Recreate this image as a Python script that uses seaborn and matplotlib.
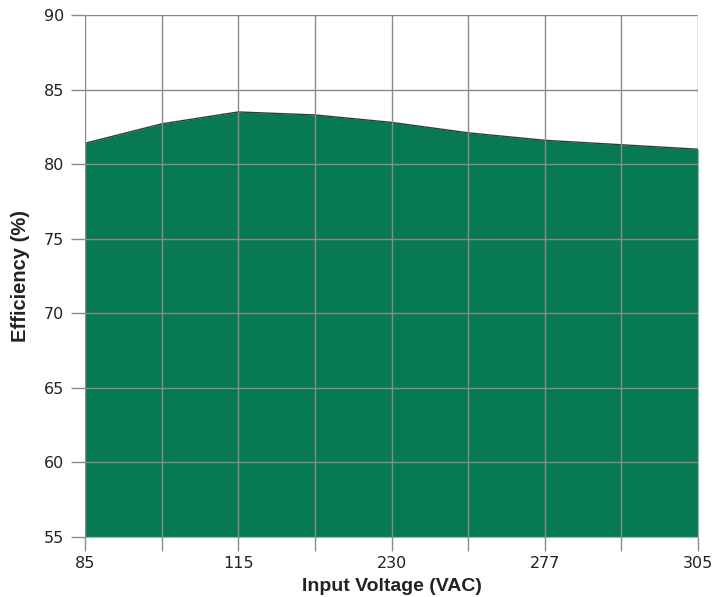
import matplotlib
matplotlib.use("Agg")
import matplotlib.pyplot as plt
import seaborn as sns
import pandas as pd

# Data (positions equally spaced on the x axis)
positions = [0, 1, 2, 3, 4, 5, 6, 7, 8]
efficiency = [81.4, 82.7, 83.5, 83.3, 82.8, 82.1, 81.6, 81.3, 81.0]
tick_positions = [0, 2, 4, 6, 8]
tick_labels = ["85", "115", "230", "277", "305"]
y_ticks = [55, 60, 65, 70, 75, 80, 85, 90]

df = pd.DataFrame({"pos": positions, "eff": efficiency})

sns.set_theme(style="white")
plt.rcParams['font.family'] = ['Liberation Sans', 'DejaVu Sans']

fig = plt.figure(figsize=(7.14, 5.97), dpi=100)
ax = fig.add_axes([85/714, 1-537/597, (698-85)/714, (537-15)/597])

green = "#087A52"
ax.fill_between(df["pos"], 55, df["eff"], color=green, lw=0, zorder=1)
sns.lineplot(data=df, x="pos", y="eff", ax=ax, color="#3a3a3a", lw=1.0, zorder=2)

ax.set_xlim(0, 8)
ax.set_ylim(55, 90)
ax.set_xticks(positions)
ax.set_xticklabels([tick_labels[tick_positions.index(p)] if p in tick_positions else "" for p in positions])
ax.set_yticks(y_ticks)

for p in positions:
    ax.axvline(p, color="#8a8a8a", lw=1.0, zorder=3)
for y in y_ticks:
    ax.axhline(y, color="#8a8a8a", lw=1.0, zorder=3)

for s in ax.spines.values():
    s.set_visible(False)

ax.tick_params(axis="x", which="both", direction="out", length=10, width=1.0,
               bottom=True, color="#8a8a8a", labelsize=11.5,
               labelcolor="#222222", pad=4)
ax.tick_params(axis="y", which="both", direction="out", length=10, width=1.0,
               left=True, color="#8a8a8a", labelsize=11.5,
               labelcolor="#222222", pad=5)
for lbl in ax.get_xticklabels() + ax.get_yticklabels():
    lbl.set_family(['DejaVu Sans'])

ax.set_xlabel("Input Voltage (VAC)", fontsize=14, fontweight="bold",
              color="#222222", labelpad=5)
ax.set_ylabel("Efficiency (%)", fontsize=14.5, fontweight="bold", color="#222222", labelpad=10)

fig.savefig("out.png", dpi=100)
